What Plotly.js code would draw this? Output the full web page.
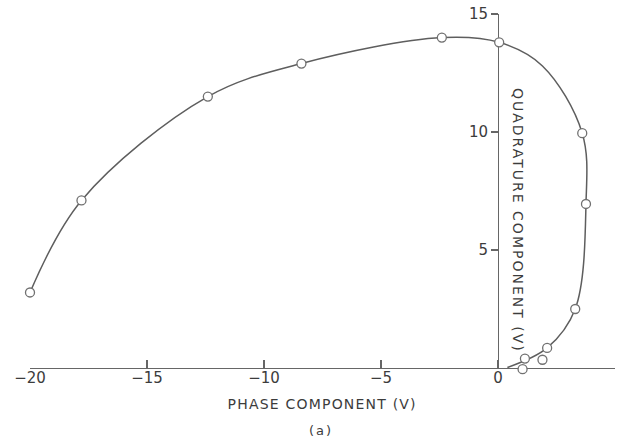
<!DOCTYPE html>
<html>
<head>
<meta charset="utf-8">
<script src="https://cdn.plot.ly/plotly-3.0.1.min.js"></script>
<style>
html,body{margin:0;padding:0;background:#fff;}
#chart{width:622px;height:441px;}
g.annotation[data-index="0"] text{letter-spacing:1.2px;}
g.annotation[data-index="1"] text{letter-spacing:2px;}
g.annotation[data-index="2"] text{letter-spacing:2px;}
</style>
</head>
<body>
<div id="chart"></div>
<script>
// Measured points (open circles)
const pointX = [-20, -17.8, -12.4, -8.4, -2.4, 0.05, 3.6, 3.76, 3.3, 2.1, 1.9, 1.15, 1.05];
const pointY = [3.2, 7.1, 11.5, 12.9, 14.0, 13.8, 9.95, 6.95, 2.5, 0.85, 0.35, 0.4, -0.05];
// Smooth fitted curve through the main points
const curveX = [-20, -17.8, -12.4, -8.4, -2.4, 0.05, 1.9, 3.6, 3.76, 3.3, 2.1, 0.4];
const curveY = [3.2, 7.1, 11.5, 12.9, 14.0, 13.8, 12.8, 9.95, 6.95, 2.5, 0.85, 0.02];
// Axis ticks
const xTickVals = [-20, -15, -10, -5, 0, 5];
const xTickText = ["\u221220", "\u221215", "\u221210", "\u22125", "0", "+5"];
const yTickVals = [5, 10, 15];
const yTickText = ["5", "10", "15"];

const ink = '#3c3c3c';
const W = 622, H = 441;
const xPx0 = 30, xPx1 = 615;     // -20 .. +5
const yPx0 = 368, yPx1 = 14;     // 0 .. 15
const pxPerY = (yPx0 - yPx1) / 15;
const x0frac = 498 / W;

const traces = [
  {x: curveX, y: curveY, xaxis: 'x', yaxis: 'y', mode: 'lines',
   line: {shape: 'spline', smoothing: 1.0, color: '#5e5e5e', width: 1.5}, hoverinfo: 'skip'},
  {x: pointX, y: pointY, xaxis: 'x', yaxis: 'y2', mode: 'markers', cliponaxis: false,
   marker: {symbol: 'circle', size: 9, color: '#fff', line: {color: '#707070', width: 1.3}}}
];

const layout = {
  width: W, height: H,
  margin: {l: 0, r: 0, t: 0, b: 0},
  paper_bgcolor: '#fff', plot_bgcolor: 'rgba(0,0,0,0)',
  showlegend: false,
  font: {family: 'DejaVu Sans', color: ink, size: 15},
  xaxis: {
    domain: [xPx0 / W, xPx1 / W], range: [-20, 5], anchor: 'y',
    showgrid: false, zeroline: false, showline: true, linecolor: '#666', linewidth: 1.3,
    ticks: 'inside', ticklen: 8, tickcolor: '#666', tickwidth: 1.3,
    tickmode: 'array', tickvals: xTickVals, ticktext: xTickText,
    tickfont: {size: 15, color: ink}, ticklabelstandoff: -4
  },
  yaxis: {
    domain: [(H - yPx0) / H, (H - yPx1) / H], range: [0, 15], anchor: 'free', position: x0frac,
    showgrid: false, zeroline: false, showline: true, linecolor: '#666', linewidth: 1.3,
    ticks: 'outside', ticklen: 7, tickcolor: '#666', tickwidth: 1.3,
    tickmode: 'array', tickvals: yTickVals, ticktext: yTickText,
    tickfont: {size: 15, color: ink}
  },
  // invisible data axis with identical scale, extended 1 unit below zero so markers are not hidden
  yaxis2: {
    domain: [(H - yPx0 - pxPerY) / H, (H - yPx1) / H], range: [-1, 15], anchor: 'free', position: 0,
    visible: false, showgrid: false, zeroline: false
  },
  annotations: [
    {text: 'PHASE COMPONENT (V)', xref: 'paper', yref: 'paper', x: 322 / W, y: 1 - 404 / H,
     showarrow: false, xanchor: 'center', yanchor: 'middle', font: {size: 14, color: ink}},
    {text: '(a)', xref: 'paper', yref: 'paper', x: 321 / W, y: 1 - 430 / H,
     showarrow: false, xanchor: 'center', yanchor: 'middle', font: {size: 13, color: ink}},
    {text: 'QUADRATURE COMPONENT (V)', xref: 'paper', yref: 'paper', x: 518 / W, y: 1 - 220 / H,
     showarrow: false, xanchor: 'center', yanchor: 'middle', textangle: 90, font: {size: 14, color: ink}}
  ]
};

Plotly.newPlot('chart', traces, layout, {displayModeBar: false, staticPlot: true});
</script>
</body>
</html>
